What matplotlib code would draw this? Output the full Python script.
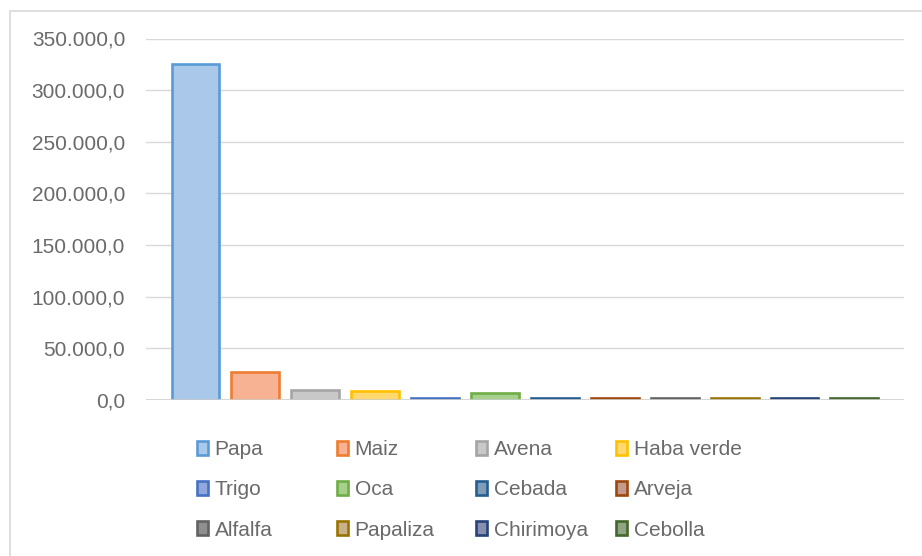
import matplotlib
matplotlib.use("Agg")
import matplotlib.pyplot as plt
from matplotlib.patches import Rectangle
from matplotlib.ticker import FuncFormatter

crops = ["Papa", "Maiz", "Avena", "Haba verde", "Trigo", "Oca", "Cebada", "Arveja",
         "Alfalfa", "Papaliza", "Chirimoya", "Cebolla"]
values = [325000, 27000, 9200, 8900, 1500, 7000, 1500, 1500, 1500, 1500, 1500, 1500]
edge_colors = ["#5B9BD5", "#ED7D31", "#A5A5A5", "#FFC000", "#4472C4", "#70AD47",
               "#255E91", "#9E480E", "#636363", "#997300", "#264478", "#43682B"]
fill_colors = ["#A9C8EA", "#F6B293", "#C8C8C8", "#FFD870", "#92A8DA", "#A8D08D",
               "#7F9CB8", "#C49A8C", "#8F8F8F", "#C8B28C", "#8690AE", "#8FA583"]

plt.rcParams['font.family'] = ['Liberation Sans', 'DejaVu Sans']

fig = plt.figure(figsize=(9.22, 5.56), dpi=100)
ax = fig.add_axes([146/922, 1-400/556, (904-146)/922, (400-38.5)/556])

handles = []
for i, (c, v, ec, fc) in enumerate(zip(crops, values, edge_colors, fill_colors)):
    b = ax.bar(i, v, width=0.8, color=fc, edgecolor=ec, linewidth=1.9, label=c, zorder=3)
    handles.append(b)

step = 59.9
ax.set_xlim(-(195.5-146)/step, (904-195.5)/step)
ax.set_ylim(0, 350000)
ax.set_yticks(range(0, 350001, 50000))
ax.yaxis.set_major_formatter(FuncFormatter(lambda x, p: f"{int(x):,}".replace(",", ".") + ",0"))
ax.tick_params(axis='y', length=0, labelsize=15, labelcolor="#6A6A6A", pad=15)
ax.set_xticks([])
for s in ax.spines.values():
    s.set_visible(False)
ax.grid(axis='y', color="#D9D9D9", linewidth=1, zorder=0)
ax.axhline(0, color="#D0D0D0", linewidth=1.2, zorder=4)

col_x = [197, 337, 476, 616]
for col in range(4):
    idx = [col, col + 4, col + 8]
    leg = fig.legend([handles[k] for k in idx], [crops[k] for k in idx],
                     ncol=1, loc='upper left', bbox_to_anchor=(col_x[col]/922, 1-440/556),
                     frameon=False, fontsize=15, handlelength=0.55, handleheight=0.66,
                     handletextpad=0.3, labelspacing=1.02,
                     labelcolor="#6A6A6A", borderaxespad=0, borderpad=0)

fig.patches.append(Rectangle((10/922, -5/556), 930/922, (556-11+5)/556, transform=fig.transFigure,
                             fill=False, edgecolor="#D9D9D9", linewidth=1.2))

fig.savefig("out.png", dpi=100)
